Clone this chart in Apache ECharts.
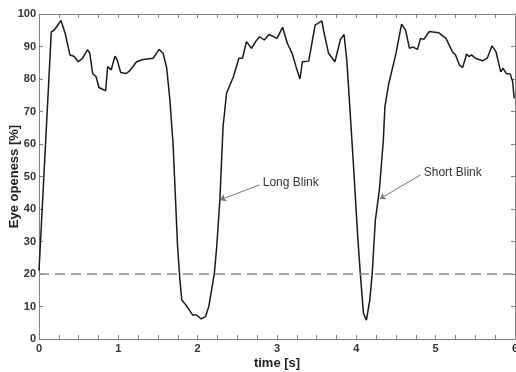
<!DOCTYPE html>
<html>
<head>
<meta charset="utf-8">
<script src="https://cdn.jsdelivr.net/npm/echarts@6/dist/echarts.min.js"></script>
<style>
  html, body { margin: 0; padding: 0; background: #fff; }
  #chart { width: 516px; height: 372px; }
</style>
</head>
<body>
<div id="chart"></div>
<script>
// time axis (s) and eye openess (%)
const time = [0, 0.155, 0.19, 0.277, 0.33, 0.39, 0.44, 0.495, 0.55, 0.61, 0.64, 0.676, 0.72, 0.755, 0.84, 0.865, 0.91, 0.957, 0.986, 1.03,
  1.10, 1.146, 1.23, 1.31, 1.44, 1.515, 1.565, 1.61, 1.65, 1.69, 1.747, 1.776, 1.80, 1.85, 1.936, 1.986, 2.044, 2.10, 2.14, 2.175,
  2.21, 2.24, 2.28, 2.32, 2.364, 2.45, 2.52, 2.565, 2.615, 2.68, 2.73, 2.78, 2.84, 2.90, 3.0, 3.07, 3.13, 3.19, 3.24, 3.29,
  3.32, 3.40, 3.48, 3.565, 3.59, 3.65, 3.73, 3.80, 3.845, 3.88, 3.92, 3.96, 4.02, 4.05, 4.09, 4.127, 4.17, 4.20, 4.24, 4.29,
  4.34, 4.36, 4.41, 4.50, 4.57, 4.62, 4.67, 4.71, 4.77, 4.81, 4.85, 4.92, 5.04, 5.13, 5.21, 5.25, 5.30, 5.34, 5.39, 5.42,
  5.45, 5.50, 5.59, 5.65, 5.71, 5.76, 5.82, 5.85, 5.89, 5.94, 5.97, 5.99];
const openess = [21, 94.5, 95, 98, 94, 87.4, 87, 85.3, 86.4, 89, 88, 81.7, 80.7, 77.4, 76.4, 83.8, 82.8, 87, 85.8, 82,
  81.7, 82.6, 85.3, 86, 86.4, 89.1, 87.9, 83.3, 73.5, 60, 28.4, 18.2, 12, 10.5, 7.4, 7.4, 6.2, 6.9, 10, 15,
  20.2, 28.4, 42.8, 65.3, 75.6, 80.7, 86.4, 86.4, 91.5, 89.4, 91.5, 93, 92, 93.7, 92.5, 95.9, 91, 87.9, 83.8, 80,
  85.3, 85.5, 96.6, 97.9, 94.6, 87.9, 85.3, 92.2, 93.7, 85.8, 70.5, 55, 30.5, 20.2, 7.9, 5.8, 12, 20.2, 36.6, 45.8,
  61, 71.5, 78.7, 87.9, 96.9, 95.1, 89.4, 89.9, 89.1, 92.5, 92.2, 94.6, 94.2, 92.5, 88.4, 87.4, 84.3, 83.5, 87.7, 86.9,
  87.4, 86.4, 85.6, 86.4, 90.2, 88.4, 82.2, 83.3, 81.7, 81.5, 79.2, 74];

const threshold = 20;

// annotations: text anchor, arrow start, arrow head (data coords)
const blinkLabels = ['Long Blink', 'Short Blink'];
const labelPos = [[2.82, 48], [4.85, 51.1]];
const arrowFrom = [[2.78, 47.4], [4.81, 50.5]];
const arrowTo = [[2.28, 42.8], [4.295, 43.1]];

const frameColor = '#808080';
const labelFont = { fontFamily: 'Liberation Sans, Arial, sans-serif', fontWeight: 'bold', fontSize: 11, color: '#333' };

const chart = echarts.init(document.getElementById('chart'));

const xBase = {
  type: 'value', min: 0, max: 6, interval: 0.25,
  axisLine: { show: true, onZero: false, lineStyle: { color: frameColor, width: 1 } },
  axisTick: { show: true, inside: true, length: 4, lineStyle: { color: frameColor } },
  splitLine: { show: false }
};
const yBase = {
  type: 'value', min: 0, max: 100, interval: 10,
  axisLine: { show: true, onZero: false, lineStyle: { color: frameColor, width: 1 } },
  axisTick: { show: true, inside: true, length: 4, lineStyle: { color: frameColor } },
  splitLine: { show: false }
};

chart.setOption({
  animation: false,
  backgroundColor: '#fff',
  grid: { left: 39, right: 1, top: 14, bottom: 33, containLabel: false, outerBoundsMode: 'none' },
  xAxis: [
    Object.assign({}, xBase, {
      position: 'bottom',
      name: 'time [s]', nameLocation: 'middle', nameGap: 18, nameMoveOverlap: false,
      nameTextStyle: Object.assign({}, labelFont, { fontSize: 13, color: '#222' }),
      axisLabel: Object.assign({}, labelFont, {
        margin: 4,
        formatter: v => Number.isInteger(v) ? String(v) : ''
      })
    }),
    Object.assign({}, xBase, { position: 'top', axisLabel: { show: false } })
  ],
  yAxis: [
    Object.assign({}, yBase, {
      position: 'left',
      name: 'Eye openess [%]', nameLocation: 'middle', nameGap: 18, nameMoveOverlap: false,
      nameTextStyle: Object.assign({}, labelFont, { fontSize: 13, color: '#222' }),
      axisLabel: Object.assign({}, labelFont, { margin: 3 })
    }),
    Object.assign({}, yBase, { position: 'right', axisLabel: { show: false } })
  ],
  series: [
    {
      type: 'line',
      data: time.map((t, i) => [t, openess[i]]),
      showSymbol: false,
      lineStyle: { color: '#1a1a1a', width: 1.5 },
      markLine: {
        silent: true,
        symbol: 'none',
        label: { show: false },
        lineStyle: { color: '#8a8a8a', type: [10, 6], width: 1.5 },
        data: [{ yAxis: threshold }]
      }
    },
    {
      type: 'line',
      data: [],
      markLine: {
        silent: true,
        symbol: ['none', 'arrow'],
        symbolSize: 6,
        label: { show: false },
        lineStyle: { color: '#777', type: 'solid', width: 1 },
        data: arrowFrom.map((p, i) => [{ coord: p }, { coord: arrowTo[i] }])
      },
      markPoint: {
        silent: true,
        symbol: 'circle',
        symbolSize: 0,
        label: {
          show: true, position: 'right', distance: 0,
          fontFamily: 'Liberation Sans, Arial, sans-serif', fontSize: 12, color: '#333'
        },
        data: labelPos.map((p, i) => ({ coord: p, value: blinkLabels[i], label: { formatter: blinkLabels[i] } }))
      }
    }
  ]
});
</script>
</body>
</html>
